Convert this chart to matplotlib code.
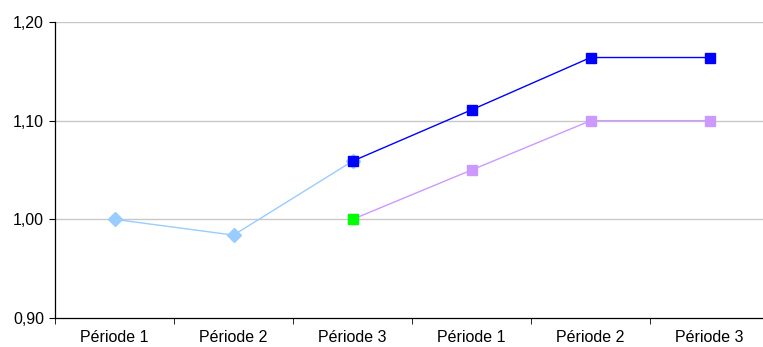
import matplotlib
matplotlib.use("Agg")
import matplotlib.pyplot as plt
import numpy as np

categories = ["Période 1", "Période 2", "Période 3", "Période 1", "Période 2", "Période 3"]

# first period series (light blue), runs into the first point of the second block
serie_a_x = [0, 1, 2]
serie_a = [1.000, 0.984, 1.059]

# second block, upper series (blue)
serie_b_x = [2, 3, 4, 5]
serie_b = [1.059, 1.111, 1.164, 1.164]

# second block, lower series (lavender), starting point in green
serie_c_x = [2, 3, 4, 5]
serie_c = [1.000, 1.050, 1.100, 1.100]

yticks = [0.90, 1.00, 1.10, 1.20]
ytick_labels = ["0,90", "1,00", "1,10", "1,20"]

plt.rcParams["font.family"] = ["Liberation Sans", "DejaVu Sans"]

fig = plt.figure(figsize=(7.63, 3.47), dpi=100)
ax = fig.add_axes([0.0721, 0.0836, 0.936, 0.853])

ax.set_xlim(-0.5, len(categories) - 0.5)
ax.set_ylim(0.90, 1.20)

for y in yticks[1:]:
    ax.axhline(y, color="#c8c8c8", lw=1.0, zorder=0)

ax.plot(serie_a_x, serie_a, color="#99ccff", lw=1.0, marker="D", markersize=7,
        markerfacecolor="#99ccff", markeredgecolor="#99ccff", zorder=2)
ax.plot(serie_c_x, serie_c, color="#cc99ff", lw=1.0, marker="s", markersize=7.5,
        markerfacecolor="#cc99ff", markeredgecolor="#cc99ff", zorder=3)
ax.plot(serie_c_x[:1], serie_c[:1], linestyle="none", marker="s", markersize=7.5,
        markerfacecolor="#00ff00", markeredgecolor="#00ff00", zorder=4)
ax.plot(serie_b_x, serie_b, color="#0000ff", lw=1.0, marker="s", markersize=7.5,
        markerfacecolor="#0000ff", markeredgecolor="#0000ff", zorder=5)

ax.set_yticks(yticks)
ax.set_yticklabels(ytick_labels, fontsize=11.5)

# category labels centred, tick marks at the boundaries
ax.set_xticks(np.arange(len(categories)))
ax.set_xticklabels(categories, fontsize=11.5)
ax.tick_params(axis="x", which="major", length=0, pad=9)
ax.set_xticks(np.arange(len(categories) + 1) - 0.5, minor=True)
ax.tick_params(axis="x", which="minor", length=4, direction="out", color="#000000")
ax.tick_params(axis="y", length=4, direction="out", color="#000000", pad=4)

for s in ["top", "right"]:
    ax.spines[s].set_visible(False)
ax.spines["left"].set_color("#000000")
ax.spines["bottom"].set_color("#000000")
ax.spines["left"].set_linewidth(0.9)
ax.spines["bottom"].set_linewidth(0.9)

fig.savefig("out.png", dpi=100)
